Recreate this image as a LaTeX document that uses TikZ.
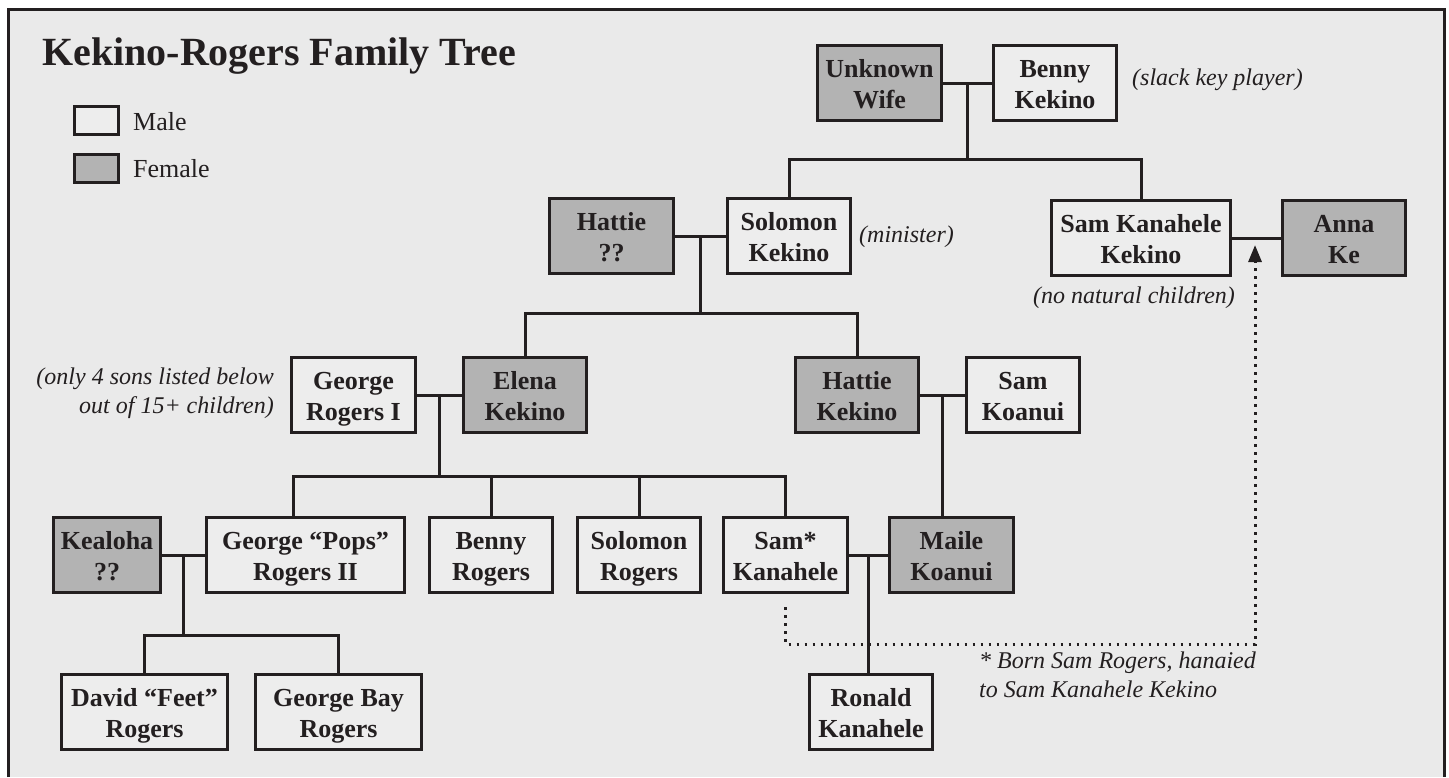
\documentclass[tikz,border=0pt]{standalone}
\usepackage{fontspec}
\setmainfont{Liberation Serif}
\usetikzlibrary{arrows.meta,calc}
\definecolor{ink}{HTML}{231F20}
\definecolor{bgcol}{HTML}{EAEAEA}
\definecolor{femfill}{HTML}{B3B3B3}
\definecolor{malefill}{HTML}{EDEDED}
\newcommand\kbBoxFont{\bfseries\fontsize{26}{31}\selectfont}
\newcommand\kbNoteFont{\itshape\fontsize{24}{29}\selectfont}
\newcommand\kbNm[2]{\rule{0pt}{26pt}#1\\#2\rule[-6pt]{0pt}{6pt}}
\tikzset{
  personbox/.style={draw=ink, line width=3pt, minimum height=75pt, inner sep=0pt,
    align=center, font=\kbBoxFont, text=ink},
  male/.style={personbox, fill=malefill},
  female/.style={personbox, fill=femfill},
  link/.style={draw=ink, line width=3pt},
  note/.style={font=\kbNoteFont, text=ink, inner sep=0pt},
  dotlink/.style={draw=ink, line width=3pt, line cap=butt, dash pattern=on 2.8pt off 5.2pt},
}
\begin{document}
\begin{tikzpicture}[x=1pt,y=-1pt]
\useasboundingbox (0,0) rectangle (1449,777);
\fill[white] (0,0) rectangle (1449,777);
\fill[bgcol] (8,9.5) rectangle (1444,777);
\draw[ink, line width=3pt] (8,777) -- (8,9.5) -- (1444,9.5) -- (1444,777);

% title and legend
\node[anchor=base west, inner sep=0pt, font=\bfseries\fontsize{40}{48}\selectfont, text=ink] (title) at (42,65) {Kekino-Rogers Family Tree};
\node[male, minimum width=44, minimum height=28] (legm) at (96.5,120.5) {};
\node[female, minimum width=44, minimum height=28] (legf) at (96.5,168) {};
\node[anchor=base west, inner sep=0pt, font=\fontsize{26}{31}\selectfont, text=ink] (legmt) at (133,130) {Male};
\node[anchor=base west, inner sep=0pt, font=\fontsize{26}{31}\selectfont, text=ink] (legft) at (133,177) {Female};

% people
\node[female, minimum width=124] (uw) at (879.5,83) {\kbNm{Unknown}{Wife}};
\node[male, minimum width=123] (benny) at (1055,83) {\kbNm{Benny}{Kekino}};
\node[female, minimum width=124] (hq) at (611.5,236) {\kbNm{Hattie}{??}};
\node[male, minimum width=123] (sol) at (789,236) {\kbNm{Solomon}{Kekino}};
\node[male, minimum width=179] (skk) at (1141,238) {\kbNm{Sam Kanahele}{Kekino}};
\node[female, minimum width=123] (anna) at (1344,238) {\kbNm{Anna}{Ke}};
\node[male, minimum width=124] (gr1) at (353.5,395) {\kbNm{George}{Rogers I}};
\node[female, minimum width=123] (elena) at (525,395) {\kbNm{Elena}{Kekino}};
\node[female, minimum width=123] (hk) at (857,395) {\kbNm{Hattie}{Kekino}};
\node[male, minimum width=113] (sk) at (1023,395) {\kbNm{Sam}{Koanui}};
\node[female, minimum width=107] (kea) at (107,555) {\kbNm{Kealoha}{??}};
\node[male, minimum width=198] (pops) at (305.5,555) {\kbNm{George “Pops”}{Rogers II}};
\node[male, minimum width=123] (brog) at (491,555) {\kbNm{Benny}{Rogers}};
\node[male, minimum width=123] (srog) at (639,555) {\kbNm{Solomon}{Rogers}};
\node[male, minimum width=124] (samstar) at (785.5,555) {\kbNm{Sam*}{Kanahele}};
\node[female, minimum width=124] (maile) at (951.5,555) {\kbNm{Maile}{Koanui}};
\node[male, minimum width=166] (david) at (144.5,712) {\kbNm{David “Feet”}{Rogers}};
\node[male, minimum width=166] (gbay) at (338.5,712) {\kbNm{George Bay}{Rogers}};
\node[male, minimum width=123] (ronald) at (871,712) {\kbNm{Ronald}{Kanahele}};

% notes
\node[note, anchor=west] (slack) at (1132,79.5) {(slack key player)};
\node[note, anchor=west] (minister) at (859,236.5) {(minister)};
\node[note] (nonat) at (1134,298) {(no natural children)};
\node[note, anchor=east, align=right] (only4) at (274,393.5) {(only 4 sons listed below\\out of 15+ children)};
\node[note, anchor=west, align=left, font=\itshape\fontsize{24}{28.5}\selectfont] (foot) at (979,677) {* Born Sam Rogers, hanaied\\to Sam Kanahele Kekino\rule[-5pt]{0pt}{5pt}};

% dotted adoption arrow
\coordinate (dstart) at ($(samstar.south)+(0,13)$);
\coordinate (arrtip) at ($(skk.east)!0.47!(anna.west)+(0,7)$);
\draw[dotlink, -{Triangle[length=17pt,width=13pt]}] (dstart) -- ++(0,37) -| (arrtip);

% generation 1
\coordinate (m1) at ($(uw.east)!0.5!(benny.west)$);
\coordinate (bar1) at ($(m1)+(0,76)$);
\draw[link] (uw.east) -- (benny.west);
\draw[link] (m1) -- (bar1);
\draw[link] (sol.north) |- (skk.north |- bar1) -- (skk.north);

% generation 2
\draw[link] (skk.east) -- (anna.west);
\coordinate (m2) at ($(hq.east)!0.5!(sol.west)$);
\coordinate (bar2) at ($(m2)+(0,77)$);
\draw[link] (hq.east) -- (sol.west);
\draw[link] (m2) -- (bar2);
\draw[link] (elena.north) |- (hk.north |- bar2) -- (hk.north);

% generation 3
\coordinate (m3) at ($(gr1.east)!0.5!(elena.west)$);
\coordinate (bar3) at ($(m3)+(0,81)$);
\coordinate (pd) at ($(pops.north west)!0.44!(pops.north east)$);
\draw[link] (gr1.east) -- (elena.west);
\draw[link] (m3) -- (bar3);
\draw[link] (pd) |- (samstar.north |- bar3) -- (samstar.north);
\draw[link] (brog.north) -- (brog.north |- bar3);
\draw[link] (srog.north) -- (srog.north |- bar3);

\coordinate (m4) at ($(hk.east)!0.5!(sk.west)$);
\draw[link] (hk.east) -- (sk.west);
\draw[link] (m4) -- (m4 |- maile.north);

% generation 4
\coordinate (m5) at ($(kea.east)!0.5!(pops.west)$);
\coordinate (bar5) at ($(m5)+(0,80)$);
\draw[link] (kea.east) -- (pops.west);
\draw[link] (m5) -- (bar5);
\draw[link] (david.north) |- (gbay.north |- bar5) -- (gbay.north);

\coordinate (m6) at ($(samstar.east)!0.5!(maile.west)$);
\draw[link] (samstar.east) -- (maile.west);
\draw[link] (m6) -- (m6 |- ronald.north);
\end{tikzpicture}
\end{document}
